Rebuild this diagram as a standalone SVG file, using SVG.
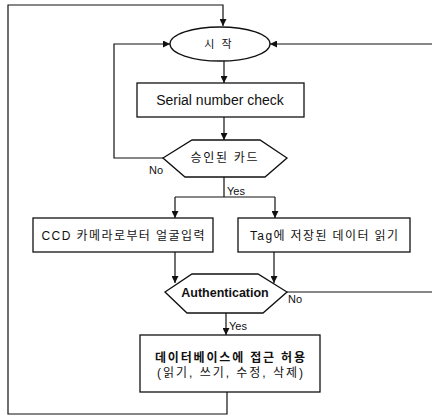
<svg xmlns="http://www.w3.org/2000/svg" width="432" height="418" viewBox="0 0 432 418">
<style>
.s{fill:#fff;stroke:#111;stroke-width:1.3}
.c{fill:none;stroke:#111;stroke-width:1.2}
text{font-family:"Liberation Sans","Noto Sans CJK KR",sans-serif;fill:#111}
.k{font-size:12px;text-anchor:middle}
.l{font-size:11px}
</style>
<defs>
<marker id="a" markerUnits="userSpaceOnUse" markerWidth="8" markerHeight="7" refX="7" refY="3.5" orient="auto">
<path d="M0,0 L7,3.5 L0,7 z" fill="#111"/>
</marker>
</defs>
<rect width="432" height="418" fill="#fff"/>
<g id="connectors">
<path class="c" d="M227,392 V414 H8 V5 H223 V26" marker-end="url(#a)"/>
<path class="c" d="M163,158 H114 V44 H170" marker-end="url(#a)"/>
<path class="c" d="M432,44 H270" marker-end="url(#a)"/>
<path class="c" d="M287,292 H432"/>
<path class="c" d="M224,61 V83" marker-end="url(#a)"/>
<path class="c" d="M224,117 V140" marker-end="url(#a)"/>
<path class="c" d="M224,177 V197 M175,197 H275"/>
<path class="c" d="M175,197 V218" marker-end="url(#a)"/>
<path class="c" d="M275,197 V218" marker-end="url(#a)"/>
<path class="c" d="M175,252 V283" marker-end="url(#a)"/>
<path class="c" d="M274,252 V283" marker-end="url(#a)"/>
<path class="c" d="M226,313 V335" marker-end="url(#a)"/>
<text class="l" x="149" y="174">No</text>
<text class="l" x="227" y="195">Yes</text>
<text class="l" x="288" y="303">No</text>
<text class="l" x="229" y="330">Yes</text>
</g>
<g id="start">
<ellipse class="s" cx="220" cy="44" rx="50" ry="17"/>
<text x="219" y="48" font-size="11" text-anchor="middle" letter-spacing="2">시 작</text>
</g>
<g id="serial">
<rect class="s" x="137" y="83" width="167" height="34"/>
<text x="220" y="105" font-size="14" text-anchor="middle">Serial number check</text>
</g>
<g id="approved">
<polygon class="s" points="163,158 192,140 260,140 287,158 265,177 185,177"/>
<text class="k" x="224" y="162" textLength="67" lengthAdjust="spacing">승인된 카드</text>
</g>
<g id="ccd">
<rect class="s" x="33" y="218" width="180" height="34"/>
<text class="k" x="123" y="240" textLength="163" lengthAdjust="spacing">CCD 카메라로부터 얼굴입력</text>
</g>
<g id="tag">
<rect class="s" x="238" y="218" width="172" height="34"/>
<text class="k" x="324" y="240" textLength="148" lengthAdjust="spacing">Tag에 저장된 데이터 읽기</text>
</g>
<g id="auth">
<polygon class="s" points="165,292 192,274 258,274 287,292 263,313 187,313"/>
<text x="225" y="297" font-size="12.5" font-weight="bold" text-anchor="middle">Authentication</text>
</g>
<g id="access">
<rect class="s" x="140" y="335" width="180" height="57"/>
<text class="k" x="230" y="362" font-weight="bold" textLength="150" lengthAdjust="spacing">데이터베이스에 접근 허용</text>
<text class="k" x="230" y="377" textLength="146" lengthAdjust="spacing">(읽기, 쓰기, 수정, 삭제)</text>
</g>
</svg>
